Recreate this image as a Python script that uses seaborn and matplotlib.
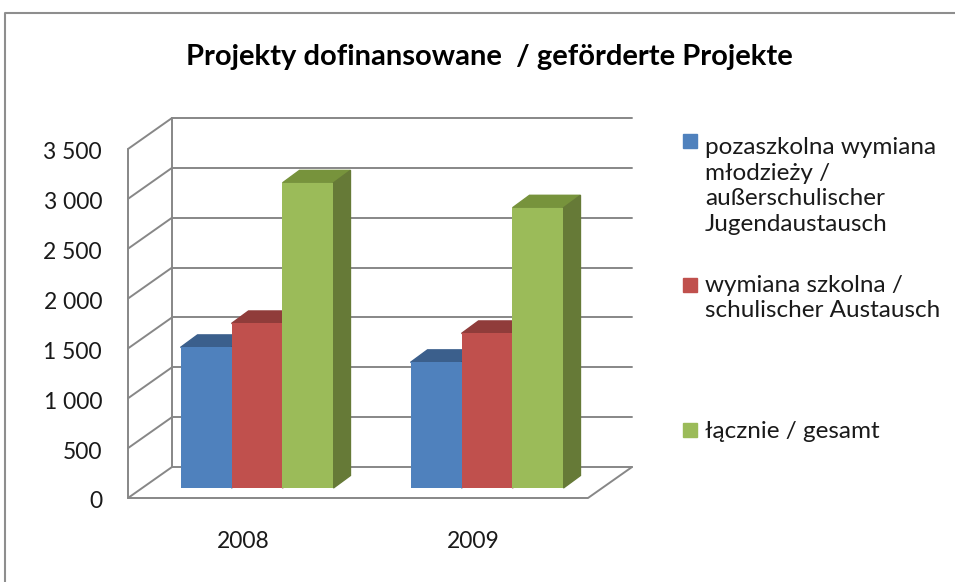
import matplotlib
matplotlib.use("Agg")
import matplotlib.pyplot as plt
from matplotlib.patches import Polygon, Rectangle
import pandas as pd
import seaborn as sns

# data
years = ["2008", "2009"]
series = [
    "pozaszkolna wymiana\nmłodzieży /\naußerschulischer\nJugendaustausch",
    "wymiana szkolna /\nschulischer Austausch",
    "łącznie / gesamt",
]
youth = [1410, 1260]
school = [1650, 1550]
total = [3060, 2810]
y_ticks = [0, 500, 1000, 1500, 2000, 2500, 3000, 3500]
y_labels = ["0", "500", "1 000", "1 500", "2 000", "2 500", "3 000", "3 500"]
title = "Projekty dofinansowane  / geförderte Projekte"

front_colors = ["#4F81BD", "#C0504D", "#9BBB59"]
top_colors = ["#3B5F8C", "#903C3A", "#77933C"]
side_colors = ["#2F4B70", "#743130", "#667A37"]
grid_color = "#878787"

df = pd.DataFrame({
    "year": years * 3,
    "series": [s for s in series for _ in years],
    "value": youth + school + total,
})

sns.set_theme(style="white")
plt.rcParams["font.family"] = ["Lato", "DejaVu Sans"]

W, H = 955, 582
fig = plt.figure(figsize=(W / 100, H / 100), dpi=100)

# overlay in pixel coords for frame, title, legend
ov = fig.add_axes([0, 0, 1, 1])
ov.set_xlim(0, W)
ov.set_ylim(H, 0)
ov.axis("off")
ov.plot([4.5, 4.5, W], [H, 12.5, 12.5], color="#8E8E8E", lw=1.5)
ov.text(489, 57, title, ha="center", va="center", fontsize=21,
        fontweight="bold", color="black")

legend_y = [186, 298, 431]
square_y = [141, 285, 430]
for name, col, ty, sy in zip(series, front_colors, legend_y, square_y):
    ov.add_patch(Rectangle((683, sy - 7), 14, 14, color=col))
    ov.text(705, ty, name, ha="left", va="center", fontsize=17.5,
            linespacing=1.26, color="#1a1a1a")

# main axes = plane of the bars' front faces
ax = fig.add_axes([142 / W, (H - 488) / H, 460 / W, 349 / H])
sns.barplot(data=df, x="year", y="value", hue="series", palette=front_colors,
            width=0.665, gap=0, saturation=1, linewidth=0, legend=False,
            zorder=3, ax=ax)
ax.set_xlim(-0.5, 1.5)
ax.set_ylim(0, 3500)
ax.axis("off")

px_x = 2.0 / 460
px_y = 3500 / 349


def shift(x, y, dx, dy):
    return x + dx * px_x, y + dy * px_y


FRONT = (-14, -10)
BACK = (30, 21)
DEPTH = (17, 12.5)
x0, x1 = -0.5, 1.5
line_kw = dict(color=grid_color, lw=1.4, zorder=1, clip_on=False)

# back wall gridlines and side wall
for v in y_ticks:
    a = shift(x0, v, *BACK)
    b = shift(x1, v, *BACK)
    ax.plot([a[0], b[0]], [a[1], b[1]], **line_kw)
    f = shift(x0, v, *FRONT)
    ax.plot([f[0], a[0]], [f[1], a[1]], **line_kw)
a = shift(x0, 0, *BACK)
b = shift(x0, 3500, *BACK)
ax.plot([a[0], b[0]], [a[1], b[1]], **line_kw)
a = shift(x0, 0, *FRONT)
b = shift(x0, 3500, *FRONT)
ax.plot([a[0], b[0]], [a[1], b[1]], **line_kw)
# floor
c = shift(x1, 0, *FRONT)
d = shift(x1, 0, *BACK)
ax.plot([a[0], c[0], d[0]], [a[1], c[1], d[1]], **line_kw)

# 3d tops and sides of the bars
ddx, ddy = DEPTH[0] * px_x, DEPTH[1] * px_y
for i, cont in enumerate(ax.containers):
    for bar in cont:
        bx, bw, bh = bar.get_x(), bar.get_width(), bar.get_height()
        top = [(bx, bh), (bx + bw, bh), (bx + bw + ddx, bh + ddy), (bx + ddx, bh + ddy)]
        side = [(bx + bw, 0), (bx + bw + ddx, ddy), (bx + bw + ddx, bh + ddy), (bx + bw, bh)]
        ax.add_patch(Polygon(top, closed=True, color=top_colors[i], zorder=2, clip_on=False))
        ax.add_patch(Polygon(side, closed=True, color=side_colors[i], zorder=2, clip_on=False))

# tick labels on the front plane
for v, lab in zip(y_ticks, y_labels):
    tx, ty = shift(x0, v, FRONT[0] - 26, FRONT[1] - 4)
    ax.text(tx, ty, lab, ha="right", va="center", fontsize=16.5, color="#1a1a1a")
for i, yr in enumerate(years):
    tx, ty = shift(i, 0, FRONT[0], FRONT[1] - 43)
    ax.text(tx, ty, yr, ha="center", va="center", fontsize=16.5, color="#1a1a1a")

fig.savefig("out.png", dpi=100)
